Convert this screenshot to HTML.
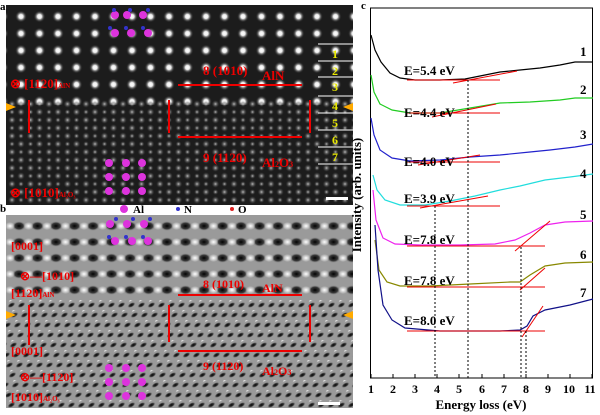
<!DOCTYPE html>
<html><head><meta charset="utf-8"><style>
body{margin:0;background:#fff;width:600px;height:415px;overflow:hidden}
svg{display:block}
text{font-family:"Liberation Serif",serif;font-weight:bold}
</style></head><body>
<svg width="600" height="415" viewBox="0 0 600 415" xmlns="http://www.w3.org/2000/svg">
<defs>
<radialGradient id="g1"><stop offset="0" stop-color="#fff"/><stop offset="0.35" stop-color="#eee"/><stop offset="0.75" stop-color="#555" stop-opacity="0.5"/><stop offset="1" stop-color="#222" stop-opacity="0"/></radialGradient>
<radialGradient id="g2"><stop offset="0" stop-color="#bbb"/><stop offset="1" stop-color="#333" stop-opacity="0"/></radialGradient>
<radialGradient id="g3"><stop offset="0" stop-color="#000"/><stop offset="0.6" stop-color="#222" stop-opacity="0.8"/><stop offset="1" stop-color="#999" stop-opacity="0"/></radialGradient>
<radialGradient id="g4"><stop offset="0" stop-color="#fff"/><stop offset="1" stop-color="#fff" stop-opacity="0"/></radialGradient>
<pattern id="pA" x="12" y="8" width="18.5" height="17" patternUnits="userSpaceOnUse"><circle cx="9" cy="8.5" r="6" fill="url(#g1)"/></pattern>
<pattern id="pB" x="8" y="100" width="18.5" height="16" patternUnits="userSpaceOnUse"><circle cx="4" cy="4" r="4" fill="url(#g2)"/><circle cx="13" cy="12" r="4" fill="url(#g2)"/><circle cx="13" cy="4" r="3" fill="url(#g2)"/><circle cx="4" cy="12" r="3" fill="url(#g2)"/></pattern>
<pattern id="pC" x="10" y="218" width="18.5" height="16" patternUnits="userSpaceOnUse"><ellipse cx="9" cy="8" rx="7" ry="5" fill="url(#g3)"/><ellipse cx="0" cy="8" rx="5" ry="4" fill="url(#g4)"/><ellipse cx="18.5" cy="8" rx="5" ry="4" fill="url(#g4)"/></pattern>
<pattern id="pD" x="10" y="300" width="10" height="10" patternUnits="userSpaceOnUse" patternTransform="skewX(-35)"><ellipse cx="5" cy="5" rx="3.5" ry="3" fill="url(#g3)"/><ellipse cx="0" cy="0" rx="3" ry="2.5" fill="url(#g4)"/></pattern>
</defs>

<!-- Panel a -->
<rect x="6" y="5" width="347" height="200" fill="#1c1c1c"/>
<rect x="6" y="5" width="347" height="100" fill="url(#pA)"/>
<rect x="6" y="100" width="347" height="105" fill="url(#pB)"/>
<text x="0" y="10" font-size="11" fill="#000">a</text>
<g stroke="#fff" stroke-width="1"><line x1="318" y1="44" x2="353" y2="44"/><line x1="318" y1="61" x2="353" y2="61"/><line x1="318" y1="77" x2="353" y2="77"/><line x1="318" y1="96" x2="353" y2="96"/><line x1="318" y1="113" x2="353" y2="113"/><line x1="318" y1="130" x2="353" y2="130"/><line x1="318" y1="147" x2="353" y2="147"/><line x1="318" y1="164" x2="353" y2="164"/></g>
<g fill="#e8e800" font-size="12" text-anchor="middle"><text x="335" y="58">1</text><text x="335" y="75">2</text><text x="335" y="91">3</text><text x="335" y="110">4</text><text x="335" y="127">5</text><text x="335" y="144">6</text><text x="335" y="161">7</text></g>
<rect x="326" y="197" width="22" height="3" fill="#fff"/>
<g stroke="#e00" stroke-width="2">
<line x1="178" y1="85" x2="302" y2="85"/><line x1="178" y1="137" x2="302" y2="137"/>
<line x1="29" y1="100" x2="29" y2="133"/><line x1="169" y1="100" x2="169" y2="133"/><line x1="310" y1="100" x2="310" y2="133"/>
</g>
<g fill="#e00" font-size="13"><text x="203" y="75">8 (10<tspan>1</tspan>0)</text><text x="262" y="80">AlN</text><text x="203" y="162">9 (11<tspan>2</tspan>0)</text><text x="262" y="167">Al<tspan font-size="8">2</tspan>O<tspan font-size="8">3</tspan></text>
<text x="10" y="88">⊗ [11<tspan>2</tspan>0]<tspan font-size="7">AlN</tspan></text><text x="10" y="197">⊗ [10<tspan>1</tspan>0]<tspan font-size="7">Al₂O₃</tspan></text></g>
<polygon points="6,103 16,107 6,111" fill="#fa0"/><polygon points="353,103 343,107 353,111" fill="#fa0"/>
<g fill="#d3d"><circle cx="115" cy="15" r="4"/><circle cx="127" cy="15" r="4"/><circle cx="143" cy="15" r="4"/><circle cx="115" cy="33" r="4"/><circle cx="131" cy="33" r="4"/><circle cx="148" cy="33" r="4"/>
<circle cx="109" cy="163" r="4"/><circle cx="126" cy="163" r="4"/><circle cx="142" cy="163" r="4"/><circle cx="109" cy="177" r="4"/><circle cx="126" cy="177" r="4"/><circle cx="142" cy="177" r="4"/><circle cx="109" cy="191" r="4"/><circle cx="126" cy="191" r="4"/><circle cx="142" cy="191" r="4"/></g>
<g fill="#33c"><circle cx="114" cy="10" r="2"/><circle cx="130" cy="10" r="2"/><circle cx="148" cy="10" r="2"/><circle cx="110" cy="28" r="2"/><circle cx="126" cy="28" r="2"/><circle cx="143" cy="28" r="2"/></g>

<!-- legend -->
<g font-size="11"><circle cx="124" cy="209" r="4" fill="#d3d"/><text x="133" y="213">Al</text><circle cx="178" cy="209" r="2" fill="#33c"/><text x="184" y="213">N</text><circle cx="232" cy="209" r="2" fill="#d22"/><text x="238" y="213">O</text></g>

<!-- Panel b -->
<rect x="6" y="215" width="347" height="193" fill="#9a9a9a"/>
<rect x="6" y="215" width="347" height="85" fill="url(#pC)"/>
<rect x="6" y="300" width="347" height="108" fill="url(#pD)"/>
<text x="0" y="212" font-size="11">b</text>
<rect x="318" y="402" width="22" height="3" fill="#fff"/>
<g stroke="#e00" stroke-width="2"><line x1="178" y1="295" x2="302" y2="295"/><line x1="178" y1="351" x2="302" y2="351"/><line x1="29" y1="305" x2="29" y2="345"/><line x1="169" y1="305" x2="169" y2="342"/><line x1="310" y1="305" x2="310" y2="342"/></g>
<g fill="#e00" font-size="12"><text x="203" y="288">8 (10<tspan>1</tspan>0)</text><text x="262" y="292">AlN</text><text x="203" y="370">9 (11<tspan>2</tspan>0)</text><text x="262" y="375">Al<tspan font-size="8">2</tspan>O<tspan font-size="8">3</tspan></text>
<text x="11" y="250">[0001]</text><text x="20" y="280">⊗—[10<tspan>1</tspan>0]</text><text x="11" y="297">[11<tspan>2</tspan>0]<tspan font-size="7">AlN</tspan></text>
<text x="11" y="355">[0001]</text><text x="20" y="381">⊗—[11<tspan>2</tspan>0]</text><text x="11" y="401">[10<tspan>1</tspan>0]<tspan font-size="7">Al₂O₃</tspan></text></g>
<polygon points="6,311 16,315 6,319" fill="#fa0"/><polygon points="353,311 343,315 353,319" fill="#fa0"/>
<g fill="#d3d"><circle cx="110" cy="224" r="4"/><circle cx="127" cy="224" r="4"/><circle cx="144" cy="224" r="4"/><circle cx="115" cy="241" r="4"/><circle cx="132" cy="241" r="4"/><circle cx="148" cy="241" r="4"/>
<circle cx="109" cy="368" r="4"/><circle cx="126" cy="368" r="4"/><circle cx="142" cy="368" r="4"/><circle cx="109" cy="382" r="4"/><circle cx="126" cy="382" r="4"/><circle cx="142" cy="382" r="4"/><circle cx="109" cy="396" r="4"/><circle cx="126" cy="396" r="4"/><circle cx="142" cy="396" r="4"/></g>
<g fill="#33c"><circle cx="116" cy="219" r="2"/><circle cx="133" cy="219" r="2"/><circle cx="150" cy="219" r="2"/><circle cx="109" cy="237" r="2"/><circle cx="126" cy="237" r="2"/><circle cx="143" cy="237" r="2"/></g>

<!-- Panel c -->
<text x="361" y="9" font-size="11">c</text>
<rect x="370.5" y="8" width="222" height="370" fill="none" stroke="#000" stroke-width="1"/>
<g stroke="#000" stroke-width="1">
<line x1="371" y1="378" x2="371" y2="374"/><line x1="393" y1="378" x2="393" y2="374"/><line x1="415" y1="378" x2="415" y2="374"/><line x1="437" y1="378" x2="437" y2="374"/><line x1="459" y1="378" x2="459" y2="374"/><line x1="482" y1="378" x2="482" y2="374"/><line x1="504" y1="378" x2="504" y2="374"/><line x1="526" y1="378" x2="526" y2="374"/><line x1="548" y1="378" x2="548" y2="374"/><line x1="570" y1="378" x2="570" y2="374"/><line x1="592" y1="378" x2="592" y2="374"/>
</g>
<g font-size="12" text-anchor="middle"><text x="371" y="393">1</text><text x="393" y="393">2</text><text x="415" y="393">3</text><text x="437" y="393">4</text><text x="459" y="393">5</text><text x="482" y="393">6</text><text x="504" y="393">7</text><text x="526" y="393">8</text><text x="548" y="393">9</text><text x="569" y="393">10</text><text x="590" y="393">11</text>
<text x="481" y="409" font-size="13">Energy loss (eV)</text>
<text transform="translate(361,195) rotate(-90)" font-size="13">Intensity (arb. units)</text></g>
<g fill="none" stroke-width="1.2">
<polyline stroke="#000" points="371,35 375,50 381,62 390,73 400,78 415,80 440,80 465,79 480,76 500,72 520,70 540,68 560,65 575,62 593,62"/>
<polyline stroke="#2c2" points="371,75 374,92 380,104 392,110 410,113 440,113 470,108 500,103 530,102 560,100 575,98 593,98"/>
<polyline stroke="#22c" points="371,118 374,135 380,150 392,158 410,161 440,160 470,157 500,155 530,152 550,150 575,147 593,144"/>
<polyline stroke="#2dd" points="373,175 377,190 385,200 400,205 425,205 450,201 475,196 500,190 520,186 545,180 570,177 593,174"/>
<polyline stroke="#e2e" points="373,190 376,220 383,238 395,244 420,245 460,245 495,244 515,240 530,233 545,225 565,222 593,221"/>
<polyline stroke="#880" points="375,240 379,270 387,282 400,286 430,286 470,284 510,282 520,282 530,275 545,266 565,263 593,262"/>
<polyline stroke="#118" points="375,225 378,270 383,305 392,320 405,328 440,331 500,331 520,330 527,326 533,316 545,310 570,305 593,299"/>
</g>
<g stroke="#e00" stroke-width="1">
<line x1="407" y1="80" x2="500" y2="80"/><line x1="453" y1="83" x2="517" y2="71"/>
<line x1="407" y1="113" x2="500" y2="113"/><line x1="432" y1="117" x2="496" y2="104"/>
<line x1="407" y1="162" x2="500" y2="162"/><line x1="418" y1="165" x2="480" y2="155"/>
<line x1="407" y1="206" x2="500" y2="206"/><line x1="420" y1="208" x2="488" y2="196"/>
<line x1="407" y1="246" x2="545" y2="246"/><line x1="515" y1="251" x2="550" y2="221"/>
<line x1="407" y1="287" x2="545" y2="287"/><line x1="520" y1="290" x2="545" y2="268"/>
<line x1="407" y1="331" x2="545" y2="331"/><line x1="522" y1="337" x2="543" y2="306"/>
</g>
<g stroke="#000" stroke-width="1" stroke-dasharray="2,2">
<line x1="435" y1="206" x2="435" y2="378"/><line x1="468" y1="80" x2="468" y2="378"/><line x1="521" y1="247" x2="521" y2="378"/><line x1="526" y1="331" x2="526" y2="378"/>
</g>
<g font-size="13"><text x="404" y="75">E=5.4 eV</text><text x="404" y="117">E=4.4 eV</text><text x="404" y="166">E=4.0 eV</text><text x="404" y="203">E=3.9 eV</text><text x="404" y="244">E=7.8 eV</text><text x="404" y="285">E=7.8 eV</text><text x="404" y="325">E=8.0 eV</text>
<text x="580" y="56">1</text><text x="580" y="94">2</text><text x="580" y="139">3</text><text x="580" y="178">4</text><text x="580" y="219">5</text><text x="580" y="259">6</text><text x="580" y="297">7</text></g>
</svg>
</body></html>
